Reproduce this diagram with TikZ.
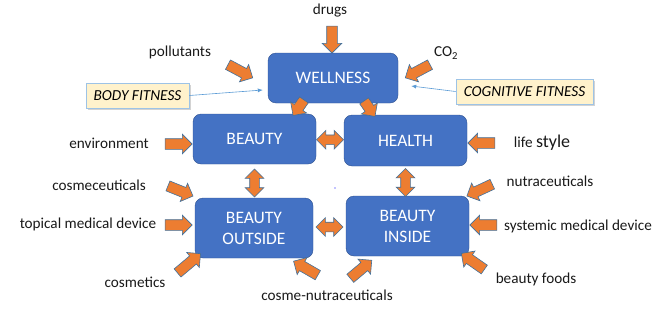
\documentclass[tikz,border=0pt]{standalone}
\usepackage{fontspec}
\setmainfont{Carlito}
\usetikzlibrary{arrows.meta,shapes.arrows,shadows,calc}
\definecolor{azul}{HTML}{4472C4}
\definecolor{azulesc}{HTML}{2F528F}
\definecolor{laranja}{HTML}{ED7D31}
\definecolor{contorno}{HTML}{41719C}
\definecolor{creme}{HTML}{FFF2CC}
\definecolor{azulclaro}{HTML}{9DC3E6}
\definecolor{linha}{HTML}{5B9BD5}
\tikzset{
  caixa/.style={draw=azulesc, fill=azul, rounded corners=8pt, text=white, align=center, font=\fontsize{17.5}{21}\selectfont, inner sep=0pt, minimum height=50pt, minimum width=#1},
  caixa/.default=123pt,
  seta/.style={single arrow, draw=contorno, fill=laranja, line width=0.6pt, minimum height=#1, text height=5pt, text depth=5pt, text width=0pt, single arrow head extend=4.5pt, inner sep=0pt},
  seta/.default=27pt,
  setadupla/.style={double arrow, draw=contorno, fill=laranja, line width=0.6pt, minimum height=#1, text height=4.5pt, text depth=4.5pt, text width=0pt, double arrow head extend=4.5pt, inner sep=0pt},
  setadupla/.default=27pt,
  nota/.style={draw=azulclaro, fill=creme, line width=0.8pt, font=\fontsize{15.3}{18}\selectfont\itshape, minimum height=25pt, minimum width=#1, inner sep=0pt, drop shadow={opacity=0.35, shadow xshift=2pt, shadow yshift=-2pt}},
  rotulo/.style={font=\fontsize{15.2}{18}\selectfont, text=black!90, inner sep=0pt},
  fina/.style={-{Latex[length=5pt,width=4pt]}, draw=linha, line width=0.6pt},
}
\begin{document}
\begin{tikzpicture}[x=1pt, y=-1pt]
  \useasboundingbox (0,0) rectangle (660,316);
  % caixas
  \node[caixa=130pt] (nw) at (333,78) {WELLNESS};
  \node[caixa] (nb) at (254.5,139) {BEAUTY};
  \node[caixa, minimum height=51pt] (nh) at (405.5,140.5) {HEALTH};
  \node[caixa=118pt, minimum height=60pt] (nbo) at (254,228) {BEAUTY\\OUTSIDE};
  \node[caixa, minimum height=60pt] (nbi) at (407.5,226) {BEAUTY\\INSIDE};
  % notas
  \node[nota=103pt] (nbf) at (137.5,95.5) {BODY FITNESS};
  \node[nota=137pt] (ncf) at (524.5,91.5) {COGNITIVE FITNESS};
  \draw[fina] (nbf.east) -- ([xshift=-5pt,yshift=-12pt]nw.west);
  \draw[fina] (ncf.west) -- ([xshift=13pt,yshift=-8pt]nw.east);
  % setas duplas
  \node[setadupla] (dbh) at ($(nb.east)!0.5!(nh.west)$) {};
  \node[setadupla] (dio) at ($(nbo.east)!0.5!(nbi.west)$) {};
  \node[setadupla=28pt, rotate=90] (dbo) at (254.5,183) {};
  \node[setadupla=28pt, rotate=90] (dhi) at (405.5,182.5) {};
  % setas de entrada
  \node[seta, rotate=-90] (sdr) at (332,37) {};
  \node[seta=28pt, rotate=-28] (spo) at (238,70) {};
  \node[seta=28pt, rotate=-152] (sco) at (420,70) {};
  \node[seta=19pt, rotate=-125] (swb) at (300,105.5) {};
  \node[seta=19pt, rotate=-55] (swh) at (368,106.5) {};
  \node[seta] (sen) at (176,144) {};
  \node[seta, rotate=180] (sls) at (484,143) {};
  \node[seta, rotate=-22] (scc) at (178,190) {};
  \node[seta] (stm) at (176,225) {};
  \node[seta=30pt, rotate=40] (sct) at (187,265) {};
  \node[seta=28pt, rotate=150] (snl) at (308,269.5) {};
  \node[seta=28pt, rotate=40] (snr) at (359,271) {};
  \node[seta=28pt, rotate=-155] (snu) at (482,189) {};
  \node[seta, rotate=180] (ssm) at (486,225) {};
  \node[seta=28pt, rotate=145] (sbf) at (475,263) {};
  % rotulos
  \node[rotulo] (ldr) at (330,11) {drugs};
  \node[rotulo] (lpo) at (180,52) {pollutants};
  \node[rotulo] (lco) at (446,53) {CO\textsubscript{2}};
  \node[rotulo] (len) at (109,143) {environment};
  \node[rotulo] (lls) at (542,143) {life {\fontsize{18}{20}\selectfont style}};
  \node[rotulo] (lcc) at (99,185) {cosmeceuticals};
  \node[rotulo] (ltm) at (88,224) {topical medical device};
  \node[rotulo] (lct) at (135,282) {cosmetics};
  \node[rotulo] (lcn) at (327,295) {cosme-nutraceuticals};
  \node[rotulo] (lnu) at (550,181) {nutraceuticals};
  \node[rotulo] (lsm) at (578,226) {systemic medical device};
  \node[rotulo] (lbf) at (536,279) {beauty foods};
  \fill[blue] (335,188) circle (0.6pt);
\end{tikzpicture}
\end{document}
